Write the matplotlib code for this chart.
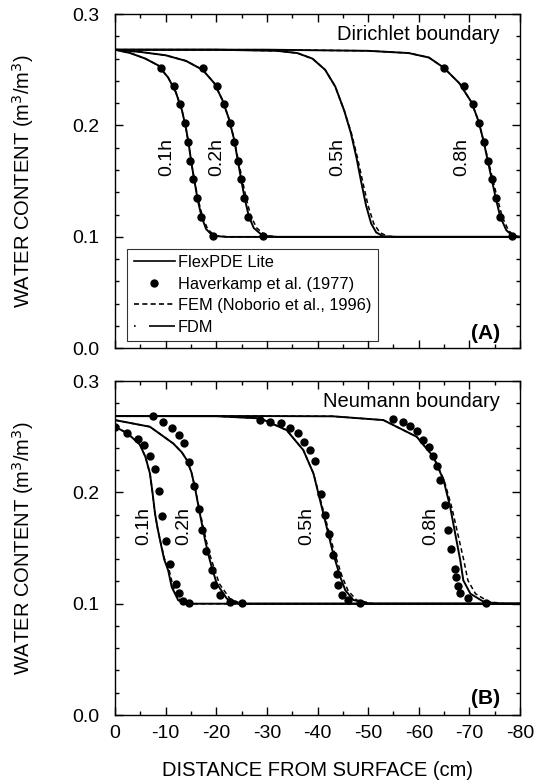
import matplotlib.pyplot as plt
from matplotlib.lines import Line2D
from matplotlib.ticker import MultipleLocator

plt.rcParams['font.family'] = ['Liberation Sans', 'DejaVu Sans']

# ---- datos (distancia en cm, contenido de agua en m3/m3) ----
etiquetas = ['0.1h', '0.2h', '0.5h', '0.8h']

# (A) frontera de Dirichlet - FlexPDE Lite
dir_x = [
    [0, -3, -6, -8.5, -10.5, -12.0, -13.2, -14.0, -14.6, -15.1, -15.7, -16.3, -17.1, -18.0, -19.3, -22, -80],
    [0, -5, -10, -14, -17.3, -19.6, -21.2, -22.5, -23.5, -24.2, -24.9, -25.6, -26.4, -27.4, -29.2, -32, -80],
    [0, -20, -32, -36, -39, -41.5, -43.5, -45.3, -46.6, -47.7, -48.6, -49.6, -50.6, -51.6, -53.0, -55.5, -80],
    [0, -30, -50, -58, -62, -64.9, -68.0, -70.4, -71.8, -72.8, -73.6, -74.4, -75.2, -76.1, -77.3, -78.5, -80],
]
dir_y = [
    [0.268, 0.265, 0.260, 0.254, 0.243, 0.230, 0.214, 0.198, 0.182, 0.166, 0.150, 0.134, 0.118, 0.107, 0.101, 0.100, 0.100],
    [0.268, 0.266, 0.263, 0.258, 0.250, 0.238, 0.223, 0.206, 0.188, 0.170, 0.152, 0.135, 0.119, 0.108, 0.101, 0.100, 0.100],
    [0.268, 0.268, 0.267, 0.265, 0.260, 0.250, 0.235, 0.213, 0.193, 0.171, 0.150, 0.128, 0.112, 0.104, 0.1005, 0.100, 0.100],
    [0.268, 0.268, 0.267, 0.265, 0.261, 0.252, 0.238, 0.221, 0.204, 0.186, 0.169, 0.152, 0.135, 0.118, 0.106, 0.101, 0.100],
]
# FEM (Noborio et al., 1996) - se separa solo en la cola
dir_fem_x = [
    [0, -3, -6, -8.5, -10.5, -12.0, -13.2, -14.0, -14.6, -15.1, -15.7, -16.4, -17.3, -18.3, -19.7, -22.5, -80],
    [0, -5, -10, -14, -17.3, -19.6, -21.2, -22.5, -23.5, -24.3, -25.1, -25.9, -26.8, -28.0, -29.8, -32.5, -80],
    [0, -20, -32, -36, -39, -41.5, -43.5, -45.3, -46.7, -47.9, -48.9, -50.0, -51.1, -52.3, -53.8, -56.5, -80],
    [0, -30, -50, -58, -62, -64.9, -68.0, -70.4, -71.8, -72.8, -73.7, -74.6, -75.5, -76.5, -77.7, -78.8, -80],
]
# Haverkamp et al. (1977)
dir_hav_x = [
    [-9.0, -11.7, -12.8, -13.8, -14.4, -14.8, -15.5, -16.1, -16.9, -19.3],
    [-17.3, -20.2, -21.6, -22.7, -23.6, -24.2, -24.8, -25.5, -26.3, -29.2],
    [],
    [-64.9, -69.0, -70.7, -71.9, -72.9, -73.6, -74.4, -75.2, -76.1, -78.5],
]
dir_hav_y = [
    [0.252, 0.235, 0.219, 0.202, 0.185, 0.168, 0.152, 0.135, 0.118, 0.101],
    [0.252, 0.235, 0.219, 0.202, 0.185, 0.168, 0.152, 0.135, 0.118, 0.101],
    [],
    [0.252, 0.235, 0.219, 0.202, 0.185, 0.168, 0.152, 0.135, 0.118, 0.101],
]

# (B) frontera de Neumann - FlexPDE Lite
neu_x = [
    [0, -2.5, -4.9, -6.0, -6.9, -7.4, -7.9, -8.4, -8.9, -9.7, -10.5, -11.2, -12.5, -15, -80],
    [0, -6.9, -11.5, -13.2, -14.2, -15.1, -15.8, -16.8, -17.8, -18.5, -19.1, -20.1, -22.1, -24.5, -80],
    [0, -20, -28.7, -33.9, -37.2, -39.2, -40.5, -41.8, -43.1, -44.5, -45.5, -47.1, -50.4, -80],
    [0, -30, -43, -53.0, -59.6, -62.9, -64.9, -66.2, -67.2, -68.2, -68.8, -70.2, -72.8, -76, -80],
]
neu_y = [
    [0.259, 0.253, 0.243, 0.232, 0.217, 0.200, 0.181, 0.168, 0.157, 0.140, 0.130, 0.115, 0.103, 0.100, 0.100],
    [0.265, 0.259, 0.244, 0.236, 0.229, 0.218, 0.204, 0.180, 0.157, 0.143, 0.133, 0.118, 0.1045, 0.100, 0.100],
    [0.2686, 0.2685, 0.2665, 0.256, 0.238, 0.217, 0.193, 0.169, 0.145, 0.124, 0.112, 0.1033, 0.100, 0.100],
    [0.2686, 0.2686, 0.2684, 0.265, 0.250, 0.232, 0.211, 0.187, 0.163, 0.139, 0.121, 0.109, 0.1018, 0.100, 0.100],
]
# FEM (Noborio et al., 1996)
neu_fem_x = [
    [0, -2.5, -4.9, -6.0, -6.9, -7.4, -7.9, -8.4, -8.9, -9.8, -10.7, -11.5, -12.9, -15.5, -80],
    [0, -6.9, -11.5, -13.2, -14.2, -15.1, -15.8, -16.9, -18.0, -18.8, -19.5, -20.6, -22.7, -25.0, -80],
    [0, -20, -28.7, -33.9, -37.2, -39.2, -40.6, -42.0, -43.4, -44.9, -46.0, -47.7, -51.0, -80],
    [0, -30, -43, -53.0, -59.6, -62.9, -65.0, -66.5, -67.7, -68.9, -69.7, -71.2, -73.8, -77, -80],
]
# Haverkamp et al. (1977)
neu_hav_x = [
    [0, -2.3, -4.5, -5.8, -6.9, -7.8, -8.6, -9.2, -10.0, -10.9, -12.1, -12.6, -13.5, -14.7],
    [-7.6, -9.5, -11.2, -12.7, -13.7, -14.7, -15.7, -16.6, -17.1, -18.0, -19.1, -19.6, -20.8, -22.7, -25.0],
    [-28.7, -30.6, -32.8, -34.5, -36.1, -37.4, -38.5, -39.5, -40.7, -41.5, -42.3, -43.0, -43.9, -44.1, -44.8, -46.1, -48.3],
    [-55.0, -56.8, -58.3, -59.6, -60.9, -62.1, -62.9, -63.6, -64.2, -65.2, -65.7, -66.4, -67.1, -67.4, -67.7, -68.1, -69.8, -73.3],
]
neu_hav_y = [
    [0.259, 0.2535, 0.248, 0.243, 0.2326, 0.2207, 0.2012, 0.1787, 0.1565, 0.1361, 0.1176, 0.1092, 0.1023, 0.1002],
    [0.2686, 0.2634, 0.258, 0.2515, 0.244, 0.2275, 0.2062, 0.1847, 0.166, 0.1475, 0.130, 0.1167, 0.1078, 0.1018, 0.1002],
    [0.265, 0.2634, 0.262, 0.258, 0.253, 0.2455, 0.238, 0.2284, 0.199, 0.180, 0.1625, 0.1437, 0.1263, 0.1167, 0.1078, 0.1033, 0.1002],
    [0.2664, 0.2634, 0.2598, 0.255, 0.247, 0.241, 0.2326, 0.2236, 0.211, 0.1886, 0.166, 0.1488, 0.1308, 0.1242, 0.1158, 0.1098, 0.1048, 0.1008],
]

# posiciones de las etiquetas de tiempo
dir_lab_x = [-10.2, -20.1, -43.9, -68.4]
neu_lab_x = [-5.6, -13.5, -37.9, -62.3]


def formatoEje(ax):
    ax.set_xlim(0, -80)
    ax.set_ylim(0, 0.3)
    ax.xaxis.set_major_locator(MultipleLocator(10))
    ax.xaxis.set_minor_locator(MultipleLocator(5))
    ax.yaxis.set_major_locator(MultipleLocator(0.1))
    ax.yaxis.set_minor_locator(MultipleLocator(0.02))
    ax.tick_params(which='both', direction='in', top=True, right=True, width=1.0)
    ax.tick_params(which='major', length=6, labelsize=14)
    ax.tick_params(which='minor', length=3)
    ax.tick_params(axis='y', which='major', pad=11)
    ax.tick_params(axis='x', which='major', pad=7)
    ax.set_yticks([0.0, 0.1, 0.2, 0.3])
    ax.set_yticklabels(['0.0', '0.1', '0.2', '0.3'])
    for s in ax.spines.values():
        s.set_linewidth(1.0)
    ax.set_ylabel('WATER CONTENT (m$^3$/m$^3$)', fontsize=14.5)
    ax.yaxis.set_label_coords(-0.195, 0.5)


def graficaPanel(ax, xs, ys, fem_xs, hx, hy, lab_x, lab_y):
    for i in range(len(xs)):
        ax.plot(fem_xs[i], ys[i], color='black', lw=1.1, ls=(0, (3, 2)))
        ax.plot(xs[i], ys[i], color='black', lw=1.4)
        if hx[i]:
            ax.plot(hx[i], hy[i], 'o', color='black', ms=5)
        ax.text(lab_x[i], lab_y, etiquetas[i], rotation=90, fontsize=14,
                ha='center', va='center')


fig = plt.figure(figsize=(5.41, 7.81), dpi=100)
ax1 = fig.add_axes([0.2126, 0.554, 0.7486, 0.428])
ax2 = fig.add_axes([0.2126, 0.0845, 0.7486, 0.4275])

graficaPanel(ax1, dir_x, dir_y, dir_fem_x, dir_hav_x, dir_hav_y, dir_lab_x, 0.1715)
graficaPanel(ax2, neu_x, neu_y, neu_fem_x, neu_hav_x, neu_hav_y, neu_lab_x, 0.170)

formatoEje(ax1)
formatoEje(ax2)
ax1.tick_params(labelbottom=False)
ax2.set_xticks(range(0, -90, -10))
ax2.set_xticklabels([str(v) for v in range(0, -90, -10)])
ax2.set_xlabel('DISTANCE FROM SURFACE (cm)', fontsize=14.5, labelpad=14)

ax1.text(0.95, 0.94, 'Dirichlet boundary', transform=ax1.transAxes, fontsize=14.5,
         ha='right', va='center')
ax2.text(0.95, 0.94, 'Neumann boundary', transform=ax2.transAxes, fontsize=14.5,
         ha='right', va='center')
ax1.text(0.95, 0.045, '(A)', transform=ax1.transAxes, fontsize=15,
         fontweight='bold', ha='right', va='center')
ax2.text(0.95, 0.05, '(B)', transform=ax2.transAxes, fontsize=15,
         fontweight='bold', ha='right', va='center')

# leyenda
handles = [
    Line2D([], [], color='black', lw=1.2),
    Line2D([], [], color='black', marker='o', ls='none', ms=5),
    Line2D([], [], color='black', lw=1.2, ls=(0, (3, 2))),
    Line2D([], [], color='black', lw=1.2, ls=(0, (1, 8, 18, 0))),
]
nombres = ['FlexPDE Lite', 'Haverkamp et al. (1977)', 'FEM (Noborio et al., 1996)', 'FDM']
leg = ax1.legend(handles, nombres, loc='lower left', bbox_to_anchor=(0.03, 0.021),
                 borderaxespad=0, fontsize=11.8, frameon=True, fancybox=False,
                 edgecolor='black', handlelength=2.5, handletextpad=0.2,
                 labelspacing=0.4, borderpad=0.4)
leg.get_frame().set_linewidth(0.8)

plt.savefig('out.png', dpi=100)
